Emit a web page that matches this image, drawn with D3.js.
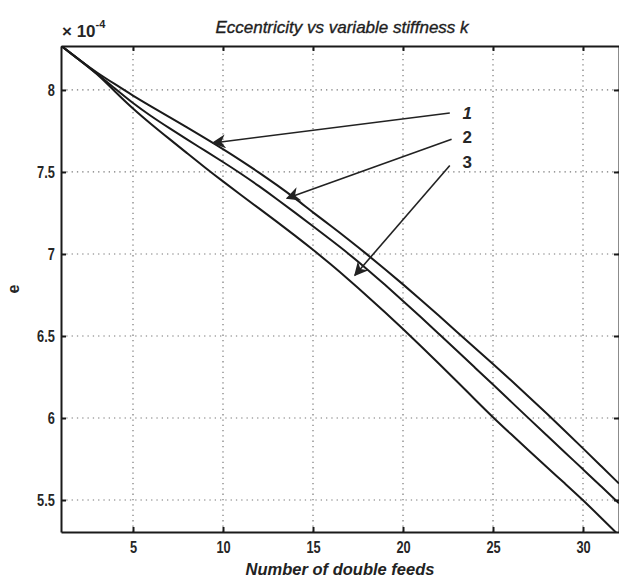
<!DOCTYPE html>
<html>
<head>
<meta charset="utf-8">
<script src="https://cdn.jsdelivr.net/npm/d3@7"></script>
<style>
  html, body { margin: 0; padding: 0; background: #fff; }
  svg { display: block; }
  .tick-label { font-family: "Liberation Sans", Arial, sans-serif; font-size: 16px; font-weight: bold; fill: #262626; }
  .title { font-family: "Liberation Sans", Arial, sans-serif; font-size: 17px; font-style: italic; fill: #1e1e1e; stroke: #1e1e1e; stroke-width: 0.35; }
  .xlabel { font-family: "Liberation Sans", Arial, sans-serif; font-size: 16.5px; font-style: italic; font-weight: bold; fill: #222; }
</style>
</head>
<body>
<div id="chart"></div>
<script>
// number of double feeds
const feeds = d3.range(1, 33);

// eccentricity (x 1e-4)
const curve1 = [8.27, 8.185, 8.105, 8.035, 7.965, 7.9, 7.836, 7.772, 7.707, 7.64, 7.57, 7.497,
  7.42, 7.34, 7.253, 7.171, 7.086, 6.998, 6.908, 6.815, 6.72, 6.623, 6.525, 6.427,
  6.329, 6.23, 6.129, 6.026, 5.921, 5.815, 5.708, 5.60];
const curve2 = [8.27, 8.185, 8.10, 8.008, 7.918, 7.84, 7.768, 7.698, 7.63, 7.561, 7.49, 7.414,
  7.334, 7.252, 7.169, 7.085, 7.0, 6.908, 6.812, 6.714, 6.614, 6.512, 6.41, 6.307,
  6.204, 6.1, 5.996, 5.893, 5.79, 5.687, 5.584, 5.48];
const curve3 = [8.27, 8.185, 8.10, 7.99, 7.885, 7.792, 7.703, 7.615, 7.527, 7.442, 7.36, 7.278,
  7.196, 7.112, 7.026, 6.936, 6.842, 6.745, 6.645, 6.543, 6.438, 6.331, 6.223, 6.113,
  6.004, 5.902, 5.8, 5.7, 5.6, 5.5, 5.392, 5.284];

const xTicks = [5, 10, 15, 20, 25, 30];
const yTicks = [5.5, 6, 6.5, 7, 7.5, 8];

// callouts: label, label position, arrow tip (data units)
const calloutLabels = ['1', '2', '3'];
const calloutFrom = [[22.6, 7.86], [22.7, 7.70], [22.6, 7.54]];
const calloutTip = [[9.44, 7.677], [13.56, 7.34], [17.33, 6.87]];
const calloutText = [[23.3, 7.86], [23.3, 7.71], [23.3, 7.56]];

class Chart {
  constructor(target) {
    this.container = target;
    this.setDimensions();
    this.drawScene();
  }

  setDimensions() {
    this.dimensions = { width: 619, height: 581 };
    this.margins = { top: 46, right: 0, bottom: 49, left: 61 };
  }

  drawScene() {
    this.scene = d3.select(this.container)
      .append('svg')
      .attr('width', this.dimensions.width)
      .attr('height', this.dimensions.height);
  }

  setScales() {
    const { width, height } = this.dimensions;
    const m = this.margins;
    this.xScale = d3.scaleLinear().domain([1, 32]).range([m.left, width - m.right]);
    this.yScale = d3.scaleLinear().domain([5.305, 8.268]).range([height - m.bottom, m.top]);
  }

  draw() {
    this.setScales();
    this.drawGrid();
    this.drawCurves();
    this.drawCallouts();
    this.drawAxes();
    this.drawTexts();
  }

  drawGrid() {
    const x = this.xScale, y = this.yScale;
    const [y0, y1] = y.range();
    const [x0, x1] = x.range();
    const g = this.scene.append('g').attr('class', 'grid')
      .attr('stroke', '#777').attr('stroke-width', 1.2).attr('stroke-dasharray', '1.3,4');

    g.selectAll('.vgrid').data(xTicks).join('line')
      .attr('x1', d => x(d)).attr('x2', d => x(d))
      .attr('y1', y0).attr('y2', y1);

    g.selectAll('.hgrid').data(yTicks).join('line')
      .attr('x1', x0).attr('x2', x1)
      .attr('y1', d => y(d)).attr('y2', d => y(d));
  }

  drawCurves() {
    const x = this.xScale, y = this.yScale;
    const [y0, y1] = y.range();
    const [x0, x1] = x.range();

    this.scene.append('clipPath').attr('id', 'plot-clip')
      .append('rect').attr('x', x0).attr('y', y1).attr('width', x1 - x0).attr('height', y0 - y1);

    const line = d3.line()
      .x((d, i) => x(feeds[i]))
      .y(d => y(d))
      .curve(d3.curveBasis);

    this.scene.append('g').attr('clip-path', 'url(#plot-clip)')
      .selectAll('path').data([curve1, curve2, curve3]).join('path')
      .attr('d', line)
      .attr('fill', 'none')
      .attr('stroke', '#1a1a1a')
      .attr('stroke-width', 2);
  }

  drawCallouts() {
    const x = this.xScale, y = this.yScale;
    const defs = this.scene.append('defs');
    defs.append('marker')
      .attr('id', 'arrowhead')
      .attr('viewBox', '0 0 10 10')
      .attr('refX', 9).attr('refY', 5)
      .attr('markerWidth', 14).attr('markerHeight', 14)
      .attr('markerUnits', 'userSpaceOnUse')
      .attr('orient', 'auto')
      .append('path')
      .attr('d', 'M0,0 L10,5 L0,10 L3,5 Z')
      .attr('fill', '#222');

    const g = this.scene.append('g').attr('class', 'callouts');
    g.selectAll('line').data(calloutLabels).join('line')
      .attr('x1', (d, i) => x(calloutFrom[i][0]))
      .attr('y1', (d, i) => y(calloutFrom[i][1]))
      .attr('x2', (d, i) => x(calloutTip[i][0]))
      .attr('y2', (d, i) => y(calloutTip[i][1]))
      .attr('stroke', '#222')
      .attr('stroke-width', 1.6)
      .attr('marker-end', 'url(#arrowhead)');

    g.selectAll('text').data(calloutLabels).join('text')
      .attr('class', 'tick-label')
      .attr('x', (d, i) => x(calloutText[i][0]))
      .attr('y', (d, i) => y(calloutText[i][1]))
      .attr('dy', '0.35em')
      .attr('font-style', (d, i) => i === 0 ? 'italic' : 'normal')
      .style('font-size', '17px')
      .text(d => d);
  }

  drawAxes() {
    const x = this.xScale, y = this.yScale;
    const [y0, y1] = y.range();
    const [x0, x1] = x.range();

    const bottom = d3.axisBottom(x).tickValues(xTicks).tickSize(-5).tickPadding(10).tickSizeOuter(0);
    const top = d3.axisTop(x).tickValues(xTicks).tickSize(-5).tickFormat('').tickSizeOuter(0);
    const left = d3.axisLeft(y).tickValues(yTicks).tickSize(-5).tickPadding(6).tickSizeOuter(0)
      .tickFormat(d3.format('~g'));
    const right = d3.axisRight(y).tickValues(yTicks).tickSize(-5).tickFormat('').tickSizeOuter(0);

    const style = sel => {
      sel.selectAll('.domain').attr('stroke', '#1a1a1a').attr('stroke-width', 2);
      sel.selectAll('.tick line').attr('stroke', '#1a1a1a').attr('stroke-width', 2);
      sel.selectAll('.tick text').attr('class', 'tick-label').attr('fill', null);
      sel.attr('font-family', null).attr('font-size', null);
    };

    this.scene.append('g').attr('transform', `translate(0,${y0})`).call(bottom).call(style)
      .selectAll('.tick text').attr('transform', 'scale(0.8,1)');
    this.scene.append('g').attr('transform', `translate(0,${y1})`).call(top).call(style);
    this.scene.append('g').attr('transform', `translate(${x0},0)`).call(left).call(style)
      .selectAll('.tick text').attr('transform', 'translate(-7,0) scale(0.8,1) translate(7,0)');
    this.scene.append('g').attr('transform', `translate(${x1},0)`).call(right).call(style);
  }

  drawTexts() {
    const [x0, x1] = this.xScale.range();
    const [y0, y1] = this.yScale.range();

    this.scene.append('text')
      .attr('class', 'title')
      .attr('x', (x0 + x1) / 2 + 2).attr('y', y1 - 13)
      .attr('text-anchor', 'middle')
      .text('Eccentricity vs variable stiffness k');

    const mult = this.scene.append('text')
      .attr('class', 'tick-label')
      .attr('x', x0 + 1).attr('y', y1 - 9)
      .style('font-size', '17px');
    mult.append('tspan').text('× 10');
    mult.append('tspan').attr('dy', -9).style('font-size', '11px').text('-4');

    this.scene.append('text')
      .attr('class', 'xlabel')
      .attr('x', (x0 + x1) / 2).attr('y', y0 + 43)
      .attr('text-anchor', 'middle')
      .text('Number of double feeds');

    this.scene.append('text')
      .attr('class', 'tick-label')
      .attr('transform', `translate(19,${(y0 + y1) / 2}) rotate(-90)`)
      .attr('text-anchor', 'middle')
      .text('e');
  }
}

const chart = new Chart('#chart');
chart.draw();
</script>
</body>
</html>
